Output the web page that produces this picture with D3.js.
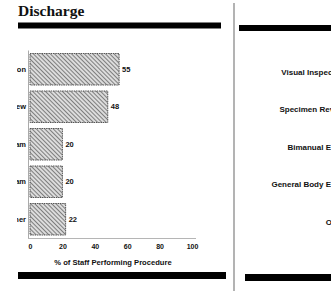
<!DOCTYPE html>
<html>
<head>
<meta charset="utf-8">
<script src="https://cdn.jsdelivr.net/npm/d3@7"></script>
<style>
  body { margin: 0; background: #fff; }
  svg { display: block; }
</style>
</head>
<body>
<div id="chart"></div>
<script>
// chart values
const categories = ["Visual Inspection", "Specimen Review", "Bimanual Exam", "General Body Exam", "Other"]
const values = [55, 48, 20, 20, 22]
const xTicks = [0, 20, 40, 60, 80, 100]
const rightCategories = ["Visual Inspection", "Specimen Review", "Bimanual Exam", "General Body Exam", "Other"]

const title = "Discharge"
const xLabel = "% of Staff Performing Procedure"

const width = 331
const height = 291

const svg = d3.select("#chart")
  .append("svg")
  .attr("width", width)
  .attr("height", height)

const defs = svg.append("defs")

// hatch pattern for the bars
const pattern = defs.append("pattern")
  .attr("id", "hatch")
  .attr("patternUnits", "userSpaceOnUse")
  .attr("width", 3)
  .attr("height", 3)
  .attr("patternTransform", "rotate(-45)")
pattern.append("rect")
  .attr("width", 3).attr("height", 3)
  .attr("fill", "#dcdcdc")
pattern.append("line")
  .attr("x1", 0).attr("y1", 0)
  .attr("x2", 0).attr("y2", 3)
  .attr("stroke", "#5e5e5e")
  .attr("stroke-width", 1.5)

// the scanned page is cropped just left of the labels
defs.append("clipPath")
  .attr("id", "page")
  .append("rect")
  .attr("x", 17).attr("y", 0)
  .attr("width", width - 17).attr("height", height)

// scales
const x = d3.scaleLinear()
  .domain([0, 100])
  .range([30, 192])

const y = d3.scaleBand()
  .domain(categories)
  .range([50.5, 238])
  .paddingInner(0.16)
  .paddingOuter(0.08)

const labelFont = "'Liberation Sans', Arial, sans-serif"
const ink = "#111"

// title
svg.append("text")
  .attr("x", 18)
  .attr("y", 16)
  .attr("font-family", "'Liberation Serif', 'DejaVu Serif', serif")
  .attr("font-weight", "bold")
  .attr("font-size", 15.5)
  .attr("fill", ink)
  .text(title)

// heavy rules
const rules = [
  {x1: 18, x2: 221, y: 25.5, w: 6},
  {x1: 239, x2: 331, y: 28, w: 6},
  {x1: 18, x2: 226, y: 275.5, w: 7},
  {x1: 245, x2: 331, y: 277.5, w: 7}
]
svg.selectAll(".rule")
  .data(rules)
  .join("line")
  .attr("class", "rule")
  .attr("x1", d => d.x1)
  .attr("x2", d => d.x2)
  .attr("y1", d => d.y)
  .attr("y2", d => d.y)
  .attr("stroke", "#000")
  .attr("stroke-width", d => d.w)

// vertical divider
svg.append("line")
  .attr("x1", 234).attr("x2", 234)
  .attr("y1", 3).attr("y2", height)
  .attr("stroke", "#9a9a9a")
  .attr("stroke-width", 1.5)

// y axis line
svg.append("line")
  .attr("x1", x(0) - 1.5).attr("x2", x(0) - 1.5)
  .attr("y1", y.range()[0]).attr("y2", 239)
  .attr("stroke", "#aaa")
  .attr("stroke-width", 1)

// x axis
const xAxis = d3.axisBottom(x)
  .tickValues(xTicks)
  .tickSize(0)
  .tickPadding(6)

const gx = svg.append("g")
  .attr("transform", "translate(0,238.5)")
  .call(xAxis)
gx.select(".domain")
  .attr("stroke", "#b5b5b5")
  .attr("d", `M${x(0) - 2},0H${x(100) + 4}`)
gx.selectAll("text")
  .attr("font-family", labelFont)
  .attr("font-weight", "bold")
  .attr("font-size", 7)
  .attr("fill", ink)

// x axis title
svg.append("text")
  .attr("x", 113)
  .attr("y", 265)
  .attr("text-anchor", "middle")
  .attr("font-family", labelFont)
  .attr("font-weight", "bold")
  .attr("font-size", 7.6)
  .attr("fill", ink)
  .text(xLabel)

// bars
svg.selectAll(".bar")
  .data(values)
  .join("rect")
  .attr("class", "bar")
  .attr("x", x(0))
  .attr("y", (d, i) => y(categories[i]))
  .attr("width", d => x(d) - x(0))
  .attr("height", y.bandwidth())
  .attr("fill", "url(#hatch)")
  .attr("stroke", "#555")
  .attr("stroke-width", 1)
  .attr("stroke-dasharray", "1.5,0.8")

// value labels
svg.selectAll(".val")
  .data(values)
  .join("text")
  .attr("class", "val")
  .attr("x", d => x(d) + 3)
  .attr("y", (d, i) => y(categories[i]) + y.bandwidth() / 2)
  .attr("dy", "0.35em")
  .attr("font-family", labelFont)
  .attr("font-weight", "bold")
  .attr("font-size", 7.5)
  .attr("fill", ink)
  .text(d => d)

// category labels (cut off by the page edge)
svg.append("g")
  .attr("clip-path", "url(#page)")
  .selectAll(".cat")
  .data(categories)
  .join("text")
  .attr("class", "cat")
  .attr("x", x(0) - 4)
  .attr("y", d => y(d) + y.bandwidth() / 2)
  .attr("dy", "0.35em")
  .attr("text-anchor", "end")
  .attr("font-family", labelFont)
  .attr("font-weight", "bold")
  .attr("font-size", 7.5)
  .attr("fill", ink)
  .text(d => d)

// right panel labels (cut off by the right edge)
const yRight = d3.scalePoint()
  .domain(rightCategories)
  .range([72, 222])

svg.selectAll(".rcat")
  .data(rightCategories)
  .join("text")
  .attr("class", "rcat")
  .attr("x", 347)
  .attr("y", d => yRight(d))
  .attr("dy", "0.35em")
  .attr("text-anchor", "end")
  .attr("font-family", labelFont)
  .attr("font-weight", "bold")
  .attr("font-size", 8)
  .attr("fill", ink)
  .text(d => d)
</script>
</body>
</html>
